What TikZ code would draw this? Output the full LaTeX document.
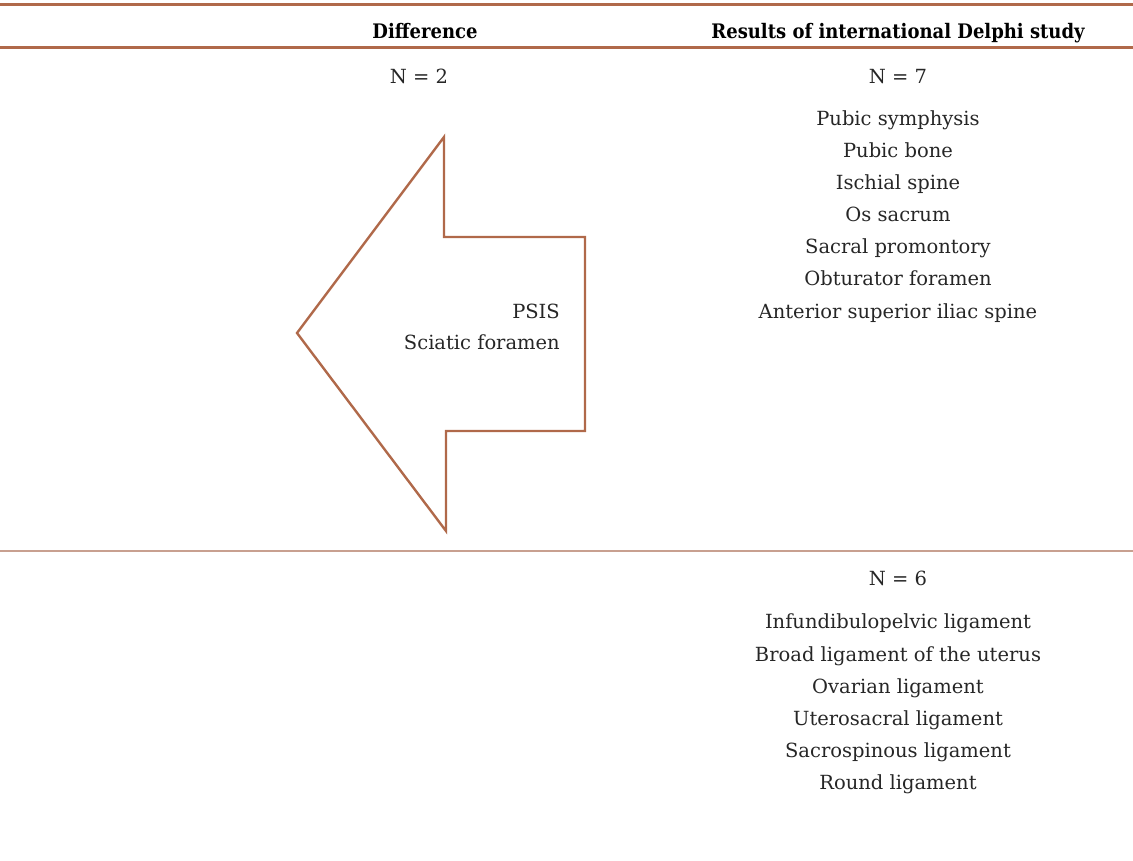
\documentclass[tikz,border=0pt]{standalone}
\usepackage{fontspec}
\setmainfont{DejaVu Serif}
\newfontfamily\headfont{DejaVu Serif Condensed}[BoldFont={DejaVu Serif Condensed Bold}]
\definecolor{rust}{HTML}{B0694A}
\definecolor{rustlight}{HTML}{C8A090}
\tikzset{
  txt/.style={inner sep=0pt,anchor=center,text height=16pt,text depth=0pt,
    font=\fontsize{19.5}{22}\selectfont,text=black!85},
  head/.style={inner sep=0pt,anchor=center,text height=16pt,text depth=0pt,
    font=\headfont\bfseries\fontsize{20}{22}\selectfont},
}

\begin{document}
\begin{tikzpicture}[x=1pt,y=-1pt]
                \useasboundingbox(0,0)rectangle(1133,861);
                \draw[rust,line width=3pt](0,5)--(1133,5);
                \draw[rust,line width=3pt](0,48)--(1133,48);
                \draw[rustlight,line width=1.2pt](0,551)--(1133,551);
                \node[head] (hdiff) at (425,31){Difference};
                \node[head] (hdelphi) at (898,31){Results of international Delphi study};
                \node[txt] (n2) at (419,76){N = 2};
                \node[txt] (n7) at (898,76){N = 7};
                \node[txt] (a1) at (898,118){Pubic symphysis};
                \node[txt] (a2) at (898,150){Pubic bone};
                \node[txt] (a3) at (898,182){Ischial spine};
                \node[txt] (a4) at (898,214){Os sacrum};
                \node[txt] (a5) at (898,246){Sacral promontory};
                \node[txt] (a6) at (898,278){Obturator foramen};
                \node[txt] (a7) at (898,310){Anterior superior iliac spine};
                \draw[rust,line width=2.4pt,line join=miter](297,333)--(444,137)--(444,237)--(585,237)
                    --(585,431)--(446,431)--(446,531)--cycle;
                \node[txt,anchor=east] (psis) at (560,310){PSIS};
                \node[txt,anchor=east] (sciatic) at (560,341){Sciatic foramen};
                \node[txt] (n6) at (898,577){N = 6};
                \node[txt] (b1) at (898,620){Infundibulopelvic ligament};
                \node[txt] (b2) at (898,653){Broad ligament of the uterus};
                \node[txt] (b3) at (898,685){Ovarian ligament};
                \node[txt] (b4) at (898,717){Uterosacral ligament};
                \node[txt] (b5) at (898,749){Sacrospinous ligament};
                \node[txt] (b6) at (898,781){Round ligament};
            \end{tikzpicture}
\end{document}
